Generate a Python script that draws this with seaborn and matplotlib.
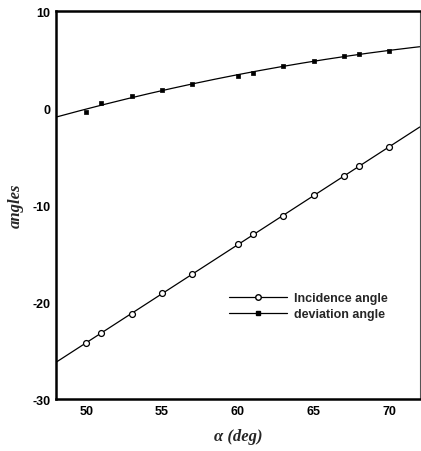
import numpy as np
import pandas as pd
import matplotlib
matplotlib.use("Agg")
import matplotlib.pyplot as plt
from matplotlib.lines import Line2D
import seaborn as sns

# Measured prism angles (degrees) versus apex angle alpha
alpha_inc = [50, 51, 53, 55, 57, 60, 61, 63, 65, 67, 68, 70]
incidence = [-24.2, -23.2, -21.2, -19.1, -17.1, -14.05, -13.0, -11.1, -9.0, -7.0, -6.0, -4.0]

alpha_dev = [50, 51, 53, 55, 57, 60, 61, 63, 65, 67, 68, 70]
deviation = [-0.4, 0.5, 1.3, 1.9, 2.5, 3.3, 3.6, 4.3, 4.9, 5.4, 5.6, 5.9]

x_ticks = [50, 55, 60, 65, 70]
y_ticks = [-30, -20, -10, 0, 10]
legend_labels = ["Incidence angle", "deviation angle"]

sns.set_theme(style="white")
plt.rcParams["font.family"] = ["Liberation Sans", "DejaVu Sans"]
plt.rcParams["axes.unicode_minus"] = False

fig = plt.figure(figsize=(4.21, 4.52), dpi=100)
ax = fig.add_axes([0.133, 0.115, 0.864, 0.858])

# Least-squares fits drawn across the full axis range
xs = np.linspace(48, 72, 200)
fit_inc = np.polyval(np.polyfit(alpha_inc, incidence, 1), xs)
fit_dev = np.polyval(np.polyfit(alpha_dev, deviation, 2), xs)
fits = pd.DataFrame({"alpha": np.concatenate([xs, xs]),
                     "angle": np.concatenate([fit_inc, fit_dev]),
                     "series": ["inc"] * len(xs) + ["dev"] * len(xs)})
sns.lineplot(data=fits[fits.series == "inc"], x="alpha", y="angle", ax=ax,
             color="black", lw=0.9, legend=False)
sns.lineplot(data=fits[fits.series == "dev"], x="alpha", y="angle", ax=ax,
             color="black", lw=0.9, legend=False)

sns.scatterplot(x=alpha_inc, y=incidence, ax=ax, marker="o", s=18,
                facecolor="white", edgecolor="black", linewidth=0.9, zorder=3)
sns.scatterplot(x=alpha_dev, y=deviation, ax=ax, marker="s", s=12,
                color="black", edgecolor="black", linewidth=0.5, zorder=3)

ax.set_xlim(48, 72)
ax.set_ylim(-30, 10)
ax.set_xticks(x_ticks)
ax.set_yticks(y_ticks)
ax.tick_params(direction="in", length=5, width=1.2, labelsize=9,
               colors="black", pad=4)
for lab in ax.get_xticklabels() + ax.get_yticklabels():
    lab.set_fontweight("bold")

for side in ["left", "bottom", "top"]:
    ax.spines[side].set_linewidth(1.8)
    ax.spines[side].set_color("black")
ax.spines["right"].set_linewidth(0.8)
ax.spines["right"].set_color("#555555")

serif = ["Liberation Serif", "DejaVu Serif"]
ax.set_xlabel("α (deg)", fontsize=12, fontstyle="italic", fontweight="bold",
              family=serif, labelpad=8)
ax.set_ylabel("angles", fontsize=12, fontstyle="italic", fontweight="bold",
              family=serif, labelpad=6)

handles = [
    Line2D([], [], color="black", lw=0.9, marker="o", markersize=4,
           markerfacecolor="white", markeredgecolor="black"),
    Line2D([], [], color="black", lw=0.9, marker="s", markersize=3,
           markerfacecolor="black", markeredgecolor="black"),
]
ax.legend(handles, legend_labels,
          loc="upper left", bbox_to_anchor=(0.446, 0.305),
          frameon=False, handlelength=4.6,
          handletextpad=0.6, labelspacing=0.35, numpoints=1,
          prop={"weight": "bold", "size": 9})

fig.savefig("out.png", dpi=100, facecolor="white")
